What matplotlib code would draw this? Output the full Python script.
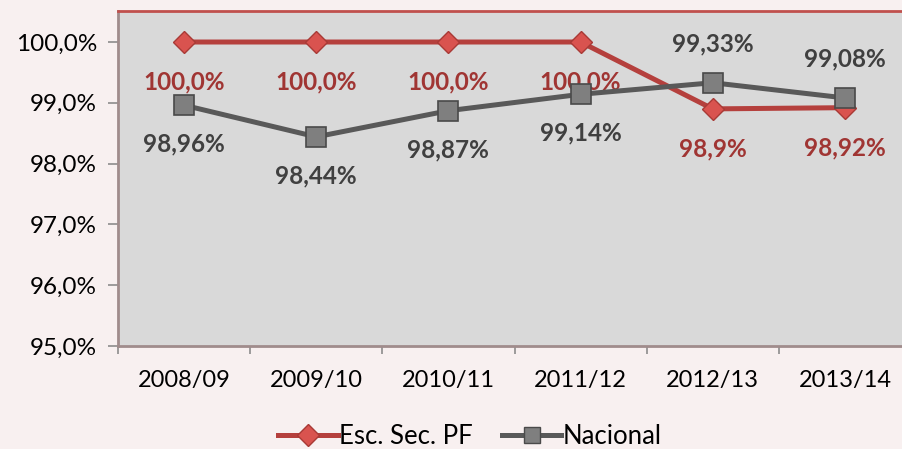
import matplotlib.pyplot as plt
from matplotlib.ticker import FuncFormatter
from matplotlib.lines import Line2D

anos = ['2008/09', '2009/10', '2010/11', '2011/12', '2012/13', '2013/14']
esc_pf = [100.0, 100.0, 100.0, 100.0, 98.9, 98.92]
esc_pf_txt = ['100,0%', '100,0%', '100,0%', '100,0%', '98,9%', '98,92%']
nacional = [98.96, 98.44, 98.87, 99.14, 99.33, 99.08]
nacional_txt = ['98,96%', '98,44%', '98,87%', '99,14%', '99,33%', '99,08%']
# rótulos do nacional por cima (+1) ou por baixo (-1)
nac_pos = [-1, -1, -1, -1, 1, 1]

plt.rcParams['font.family'] = ['Lato', 'DejaVu Sans']

fundo = '#F8F0F0'
vermelho = '#B5403D'
cinza = '#595959'

fig = plt.figure(figsize=(9.02, 4.49), dpi=100, facecolor=fundo)
ax = fig.add_axes([118 / 902, 1 - 346 / 449, (911 - 118) / 902, (346 - 11) / 449])
ax.set_facecolor('#D9D9D9')

x = list(range(len(anos)))
ax.plot(x, esc_pf, color=vermelho, lw=3.6, marker='D', ms=11.5,
        mfc='#D9534F', mec='#A83A36', mew=1, zorder=3)
ax.plot(x, nacional, color=cinza, lw=3.6, marker='s', ms=14,
        mfc='#7F7F7F', mec='#4A4A4A', mew=1.2, zorder=4)

for i in x:
    ax.annotate(esc_pf_txt[i], (i, esc_pf[i]), xytext=(0, -29), textcoords='offset points',
                ha='center', va='center', fontsize=17.5, fontweight='bold', color='#A03533')
    ax.annotate(nacional_txt[i], (i, nacional[i]), xytext=(0, 28 * nac_pos[i]),
                textcoords='offset points', ha='center', va='center',
                fontsize=17.5, fontweight='bold', color='#404040')

ax.set_xlim(-0.485, 5.5)
ax.set_ylim(95, 100.51)
ax.set_yticks([95, 96, 97, 98, 99, 100])
ax.yaxis.set_major_formatter(FuncFormatter(lambda v, p: f'{v:.1f}%'.replace('.', ',')))
ax.set_xticks(x)
ax.set_xticklabels(anos)
ax.set_xticks([i - 0.5 for i in range(len(anos) + 1)], minor=True)
ax.tick_params(axis='x', which='major', length=0, pad=17, labelsize=17)
ax.tick_params(axis='x', which='minor', length=6, color='#8C8C8C', width=1.2)
ax.tick_params(axis='y', length=7, color='#8C8C8C', width=1.2, pad=8, labelsize=17.5)

for s in ['left', 'bottom']:
    ax.spines[s].set_color('#A08C8C')
    ax.spines[s].set_linewidth(2)
ax.spines['top'].set_color('#C0504D')
ax.spines['top'].set_linewidth(2)
ax.spines['right'].set_visible(False)

handles = [
    Line2D([], [], color=vermelho, lw=3.6, marker='D', ms=11, mfc='#D9534F', mec='#A83A36'),
    Line2D([], [], color=cinza, lw=3.6, marker='s', ms=11, mfc='#7F7F7F', mec='#4A4A4A'),
]
fig.legend(handles, ['Esc. Sec. PF', 'Nacional'], loc='center', bbox_to_anchor=(470 / 902, 1 - 436 / 449),
           ncol=2, frameon=False, fontsize=18.5, handlelength=2.3, handletextpad=0.05, columnspacing=1.15)

fig.savefig('out.png', dpi=100, facecolor=fundo)
